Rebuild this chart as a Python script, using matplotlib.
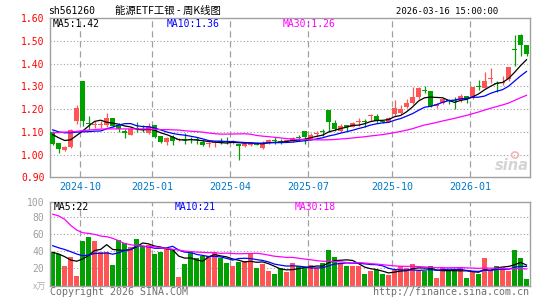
import matplotlib
matplotlib.use("Agg")
import matplotlib.pyplot as plt
from matplotlib.patches import Ellipse
import numpy as np
import pandas as pd

# ---------------- data ----------------
opens = [1.099, 1.049, 1.018, 1.035, 1.146, 1.326, 1.141, 1.132, 1.132, 1.132,
         1.163, 1.131, 1.103, 1.088, 1.115, 1.113, 1.096, 1.132, 1.082, 1.054,
         1.076, 1.063, 1.069, 1.069, 1.066, 1.056, 1.045, 1.052, 1.061, 1.058,
         1.057, 1.045, 1.038, 1.042, 1.046, 1.028, 1.051, 1.060, 1.058, 1.058,
         1.058, 1.074, 1.105, 1.067, 1.090, 1.101, 1.197, 1.139, 1.102, 1.130,
         1.123, 1.144, 1.146, 1.170, 1.169, 1.146, 1.145, 1.177, 1.183, 1.211,
         1.229, 1.252, 1.286, 1.282, 1.215, 1.226, 1.237, 1.236, 1.242, 1.258,
         1.252, 1.302, 1.295, 1.331, 1.315, 1.313, 1.333, 1.465, 1.526, 1.482]
closes = [1.047, 1.024, 1.034, 1.109, 1.207, 1.146, 1.134, 1.135, 1.135, 1.163,
          1.124, 1.112, 1.096, 1.113, 1.112, 1.110, 1.124, 1.079, 1.054, 1.072,
          1.059, 1.066, 1.066, 1.066, 1.063, 1.044, 1.048, 1.055, 1.053, 1.055,
          1.059, 1.039, 1.050, 1.053, 1.044, 1.051, 1.063, 1.058, 1.056, 1.061,
          1.073, 1.072, 1.076, 1.088, 1.093, 1.099, 1.142, 1.112, 1.127, 1.123,
          1.140, 1.146, 1.144, 1.173, 1.148, 1.143, 1.163, 1.207, 1.199, 1.229,
          1.252, 1.292, 1.279, 1.213, 1.222, 1.245, 1.235, 1.234, 1.257, 1.245,
          1.299, 1.299, 1.326, 1.334, 1.312, 1.316, 1.387, 1.460, 1.482, 1.444]
highs = [1.103, 1.051, 1.040, 1.114, 1.220, 1.326, 1.168, 1.150, 1.148, 1.185,
         1.163, 1.141, 1.113, 1.118, 1.143, 1.132, 1.138, 1.132, 1.082, 1.079,
         1.088, 1.074, 1.097, 1.078, 1.078, 1.063, 1.057, 1.061, 1.073, 1.077,
         1.064, 1.045, 1.053, 1.054, 1.054, 1.061, 1.069, 1.077, 1.069, 1.066,
         1.076, 1.085, 1.105, 1.093, 1.105, 1.111, 1.197, 1.151, 1.134, 1.130,
         1.142, 1.163, 1.157, 1.179, 1.179, 1.150, 1.165, 1.242, 1.220, 1.246,
         1.296, 1.299, 1.304, 1.282, 1.227, 1.250, 1.245, 1.252, 1.266, 1.258,
         1.299, 1.330, 1.362, 1.380, 1.326, 1.345, 1.387, 1.526, 1.532, 1.482]
lows = [1.043, 1.006, 1.015, 1.030, 1.135, 1.125, 1.109, 1.116, 1.116, 1.123,
        1.120, 1.100, 1.074, 1.085, 1.100, 1.101, 1.091, 1.074, 1.050, 1.041,
        1.044, 1.059, 1.047, 1.050, 1.047, 1.038, 1.035, 1.032, 1.047, 1.045,
        1.048, 0.974, 1.032, 1.039, 1.041, 1.026, 1.047, 1.047, 1.047, 1.055,
        1.056, 1.061, 1.047, 1.064, 1.076, 1.083, 1.098, 1.104, 1.098, 1.105,
        1.120, 1.128, 1.122, 1.150, 1.140, 1.137, 1.143, 1.171, 1.177, 1.207,
        1.223, 1.245, 1.272, 1.208, 1.203, 1.221, 1.222, 1.202, 1.230, 1.226,
        1.245, 1.286, 1.292, 1.317, 1.274, 1.306, 1.326, 1.389, 1.433, 1.435]
volumes = [38.7, 36.4, 22.8, 32.9, 11.2, 51.8, 56.5, 51.8, 39.5, 38.7,
           24.0, 53.0, 49.5, 44.9, 54.2, 46.4, 47.6, 36.8, 39.5, 43.3,
           42.2, 10.0, 25.1, 40.2, 32.1, 34.8, 35.0, 38.7, 32.5, 26.3,
           22.8, 27.5, 28.6, 36.4, 20.5, 25.1, 17.0, 13.5, 20.5, 15.9,
           26.3, 22.8, 20.5, 24.0, 20.5, 26.3, 41.4, 33.3, 26.3, 22.8,
           22.8, 22.8, 13.5, 16.5, 18.2, 13.5, 12.4, 18.2, 22.8, 20.5,
           25.1, 17.0, 17.0, 22.8, 8.9, 21.7, 17.0, 17.0, 21.7, 8.9,
           17.0, 13.5, 32.1, 18.2, 22.8, 21.7, 17.0, 41.4, 32.1, 7.7]

# moving-average values at the start of the window (history before the window)
ma5_head = [1.088, 1.074, 1.062, 1.065]
ma10_head = [1.109, 1.100, 1.096, 1.096, 1.099, 1.100, 1.101, 1.103, 1.104]
ma30_head = [1.096, 1.097, 1.099, 1.100, 1.102, 1.106, 1.108, 1.110, 1.112, 1.113,
             1.113, 1.113, 1.113, 1.113, 1.113, 1.113, 1.113, 1.111, 1.110, 1.110,
             1.109, 1.108, 1.105, 1.103, 1.101, 1.099, 1.095, 1.092, 1.090]
vma5_head = [38.7, 36.8, 33.7, 29.8]
vma10_head = [46.4, 44.0, 42.0, 39.5, 36.8, 34.8, 35.6, 37.5, 37.5]
vma30_head = [83.0, 81.0, 77.0, 70.0, 64.6, 61.5, 60.7, 59.6, 57.6, 56.9,
              55.0, 52.2, 49.0, 47.6, 46.4, 46.0, 45.3, 45.3, 44.0, 43.3,
              42.2, 41.4, 40.2, 39.5, 39.0, 38.7, 38.3, 38.3, 37.5]

month_labels = ["2024-10", "2025-01", "2025-04", "2025-07", "2025-10", "2026-01"]
month_index = [5, 17, 30, 43, 57, 70]

price_ticks = [0.90, 1.00, 1.10, 1.20, 1.30, 1.40, 1.50, 1.60]
vol_ticks = [20, 40, 60, 80]

code = "sh561260"
title = "能源ETF工银 - 周K线图"
stamp = "2026-03-16 15:00:00"
ma_price_text = ["MA5:1.42", "MA10:1.36", "MA30:1.26"]
ma_vol_text = ["MA5:22", "MA10:21", "MA30:18"]

# ---------------- helpers ----------------
W, H = 545, 300
RED = "#ff5555"
GREEN = "#00a000"
GRID = "#a0a0a0"
FRAME = "#a0a0a0"
MONO = "DejaVu Sans Mono"


def ma(series, n, head):
    s = pd.Series(series).rolling(n).mean().to_numpy()
    s[:len(head)] = head
    return s


def fx(px):
    return px / W


def fy(py):
    return 1 - py / H


x = np.arange(len(closes))
o = np.array(opens); c = np.array(closes); hi = np.array(highs); lo = np.array(lows)
v = np.array(volumes)
up = c >= o
cols = np.where(up, RED, GREEN)

fig = plt.figure(figsize=(W / 100, H / 100), dpi=100)
fig.patch.set_facecolor("white")

ax = fig.add_axes([fx(50), fy(177.3), fx(480), (177.3 - 18.3) / H])
axv = fig.add_axes([fx(50), fy(285.7), fx(480), (285.7 - 201.7) / H])

xlim = (-0.45, len(x) - 0.42)

for a in (ax, axv):
    a.set_xlim(*xlim)
    for sp in a.spines.values():
        sp.set_color(FRAME)
        sp.set_linewidth(1.0)
    a.tick_params(length=0)
    a.set_xticks([])
    for mi in month_index:
        a.axvline(mi - 0.4, color=GRID, lw=0.9, ls=(0, (5, 3)), zorder=0)

# ---- price panel ----
ax.set_ylim(0.90, 1.60)
for t in price_ticks[1:-1]:
    ax.axhline(t, color=GRID, lw=0.8, ls=(0, (1, 2)), zorder=0)
ax.set_yticks(price_ticks)
ax.set_yticklabels([f"{t:.2f}" for t in price_ticks], color="#ff0000",
                   fontfamily=MONO, fontsize=7)
ax.tick_params(axis="y", pad=4)

ax.vlines(x, lo, hi, colors=cols, lw=0.9, zorder=2)
body_bottom = np.minimum(o, c)
body_h = np.maximum(np.abs(c - o), 0.0045)
ax.bar(x, body_h, bottom=body_bottom, width=0.82, color=cols, linewidth=0, zorder=3)

ax.plot(x, ma(closes, 5, ma5_head), color="black", lw=0.9, zorder=4)
ax.plot(x, ma(closes, 10, ma10_head), color="#0000ff", lw=0.9, zorder=4)
ax.plot(x, ma(closes, 30, ma30_head), color="#ff00ff", lw=0.9, zorder=4)

fig.text(fx(53), fy(24), ma_price_text[0], color="black", fontfamily=MONO, fontsize=7, va="center")
fig.text(fx(167), fy(24), ma_price_text[1], color="#0000ff", fontfamily=MONO, fontsize=7, va="center")
fig.text(fx(283), fy(24), ma_price_text[2], color="#ff00ff", fontfamily=MONO, fontsize=7, va="center")

# watermark
fig.text(fx(512), fy(166), "sina", color="#d4d4d4", fontsize=10.5, fontweight="bold",
         fontstyle="italic", ha="center", va="center", family="DejaVu Sans", zorder=1)
fig.patches.append(Ellipse((fx(515), fy(155)), fx(7), 6 / H, transform=fig.transFigure,
                           facecolor="none", edgecolor="#f0b8b8", lw=1.2, zorder=1))

# x tick labels
for lab, mi in zip(month_labels, month_index):
    ax.text(mi - 0.4, -0.06, lab, transform=ax.get_xaxis_transform(), ha="center",
            va="center", color="#0078c8", fontfamily=MONO, fontsize=7.2)

# ---- volume panel ----
axv.set_ylim(0, 97.5)
for t in vol_ticks:
    axv.axhline(t, color=GRID, lw=0.8, ls=(0, (1, 2)), zorder=0)
axv.set_yticks(vol_ticks + [97.5])
axv.set_yticklabels([str(t) for t in vol_ticks] + ["100"], color="#a0a0a0",
                    fontfamily=MONO, fontsize=7)
axv.tick_params(axis="y", pad=4)
axv.bar(x, v, width=0.82, color=cols, linewidth=0, zorder=2)
axv.plot(x, ma(volumes, 5, vma5_head), color="black", lw=0.9, zorder=4)
axv.plot(x, ma(volumes, 10, vma10_head), color="#0000ff", lw=0.9, zorder=4)
axv.plot(x, ma(volumes, 30, vma30_head), color="#ff00ff", lw=0.9, zorder=4)

fig.text(fx(54), fy(206.5), ma_vol_text[0], color="black", fontfamily=MONO, fontsize=7, va="center")
fig.text(fx(175), fy(206.5), ma_vol_text[1], color="#0000ff", fontfamily=MONO, fontsize=7, va="center")
fig.text(fx(295), fy(206.5), ma_vol_text[2], color="#ff00ff", fontfamily=MONO, fontsize=7, va="center")

fig.text(fx(46), fy(287), "x万", color="#b0b0b0", fontsize=6.5, ha="right", va="center",
         family=["Noto Sans CJK SC", "DejaVu Sans"])

# ---- header & footer ----
fig.text(fx(48), fy(11), code, color="black", fontfamily=MONO, fontsize=7, va="center")
fig.text(fx(115), fy(11), title, color="black", fontsize=7.5, va="center",
         family=["Noto Sans CJK SC", "DejaVu Sans"])
fig.text(fx(498), fy(11), stamp, color="black", fontfamily=MONO, fontsize=6.4, va="center", ha="right")
fig.text(fx(50), fy(292), "Copyright 2026 SINA.COM", color="#707070", fontfamily=MONO,
         fontsize=7.2, va="center")
fig.text(fx(529), fy(292), "http://finance.sina.com.cn", color="#707070", fontfamily=MONO,
         fontsize=7.2, va="center", ha="right")

fig.savefig("out.png", dpi=100, facecolor="white")
